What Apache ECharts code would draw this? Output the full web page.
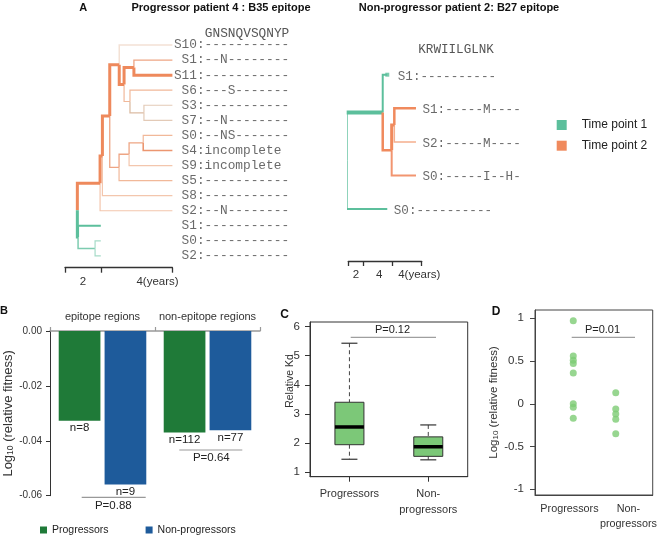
<!DOCTYPE html>
<html><head><meta charset="utf-8">
<script src="https://cdn.jsdelivr.net/npm/echarts@6/dist/echarts.min.js"></script>
<style>html,body{margin:0;padding:0;background:#fff}#chart{width:660px;height:535px}</style>
</head><body><div id="chart"></div>
<script>
// ---------------- Panel A data ----------------
const leftTitle = 'Progressor patient 4 : B35 epitope';
const rightTitle = 'Non-progressor patient 2: B27 epitope';
const leftEpitope = 'GNSNQVSQNYP';
const rightEpitope = 'KRWIILGLNK';
const leftLeafLabels = ['S10:-----------',' S1:--N--------','S11:-----------',' S6:---S-------',' S3:-----------',' S7:--N--------',' S0:--NS-------',' S4:incomplete',' S9:incomplete',' S5:-----------',' S8:-----------',' S2:--N--------',' S1:-----------',' S0:-----------',' S2:-----------'];
// [node, parent, time (years), leaf row, time point]
const leftTree = [
  ['root', null, 0.69, null, 2],
  ['P1', 'root', 1.96, null, 2],
  ['G1', 'root', 0.73, null, 1],
  ['G2', 'G1', 1.68, null, 1],
  ['g_S1', 'G1', 2.0, 12, 1],
  ['g_S0', 'G2', 2.0, 13, 1],
  ['g_S2', 'G2', 2.0, 14, 1],
  ['P2', 'P1', 2.09, null, 2],
  ['o_S2', 'P1', 6.0, 11, 2],
  ['P3', 'P2', 2.50, null, 2],
  ['o_S8', 'P2', 6.0, 10, 2],
  ['R5', 'P3', 3.03, null, 2],
  ['Q3', 'P3', 3.02, null, 2],
  ['o_S10', 'R5', 6.0, 0, 2],
  ['R2', 'R5', 3.30, null, 2],
  ['R1', 'R2', 3.85, null, 2],
  ['R3', 'R2', 3.63, null, 2],
  ['o_S1', 'R1', 6.0, 1, 2],
  ['o_S11', 'R1', 6.0, 2, 2],
  ['o_S6', 'R3', 6.0, 3, 2],
  ['R4', 'R3', 4.41, null, 2],
  ['o_S3', 'R4', 6.0, 4, 2],
  ['o_S7', 'R4', 6.0, 5, 2],
  ['Q2', 'Q3', 3.58, null, 2],
  ['o_S5', 'Q3', 6.0, 9, 2],
  ['Q1', 'Q2', 4.37, null, 2],
  ['o_S9', 'Q2', 6.0, 8, 2],
  ['o_S0', 'Q1', 6.0, 6, 2],
  ['o_S4', 'Q1', 6.0, 7, 2]
];
const rightLeafLabels = ['S1:----------','S1:-----M----','S2:-----M----','S0:-----I--H-','S0:----------'];
const rightTree = [
  ['root', null, -0.22, null, 1],
  ['N1', 'root', 4.69, null, 1],
  ['g_S0', 'root', 5.31, 4, 1],
  ['g_S1', 'N1', 5.31, 0, 1],
  ['N2', 'N1', 5.91, null, 2],
  ['N3', 'N2', 6.27, null, 2],
  ['o_S1', 'N3', 9.22, 1, 2],
  ['o_S2', 'N3', 9.22, 2, 2],
  ['o_S0', 'N2', 9.22, 3, 2]
];
const timePoints = ['Time point 1', 'Time point 2'];
const leftScaleTicks = [0, 2, 6];
const leftScaleLabelAt = [1, 5.17];
const leftScaleLabels = ['2', '4(years)'];
const rightScaleTicks = [0, 2.04, 6, 10];
const rightScaleLabelAt = [1.05, 4.22, 9.67];
const rightScaleLabels = ['2', '4', '4(years)'];

// ---------------- Panel B data ----------------
const regions = ['epitope regions', 'non-epitope regions'];
const groups = ['Progressors', 'Non-progressors'];
const progressorsFitness = [-0.0327, -0.0370];
const nonProgressorsFitness = [-0.0559, -0.0362];
const progressorsN = ['n=8', 'n=112'];
const nonProgressorsN = ['n=9', 'n=77'];
const bPValues = ['P=0.88', 'P=0.64'];

// ---------------- Panel C data ----------------
const cMin = [1.44, 1.42];
const cQ1 = [1.94, 1.54];
const cMedian = [2.55, 1.87];
const cQ3 = [3.40, 2.21];
const cMax = [5.43, 2.62];
const cYTicks = [1, 2, 3, 4, 5, 6];
const cPValue = 'P=0.12';

// ---------------- Panel D data ----------------
const dProgressors = [0.97, 0.56, 0.51, 0.47, 0.36, 0.00, -0.04, -0.17];
const dNonProgressors = [0.13, -0.06, -0.12, -0.18, -0.35];
const dYTicks = [-1, -0.5, 0, 0.5, 1];
const dXLabelAt = [0.91, 2.3];
const dPValue = 'P=0.01';

// ---------------- styles ----------------
const SANS = 'Liberation Sans';
const MONO = 'Liberation Mono';
const GREEN_TP = '#5cbf9c', ORANGE_TP = '#f08a5d';
const PRESET = {
  thickO:{color:'#ee895c', width:3}, thickG:{color:'#5cbf9c', width:3},
  midG:{color:'#5cbf9c', width:2}, thinG:{color:'#7dccb0', width:1.5}, lightG:{color:'#a6dbc8', width:1.2},
  peach:{color:'#f3c6ad', width:1.2}, midO:{color:'#eea584', width:1.3}, midO2:{color:'#ec9670', width:1.6},
  lightO:{color:'#f1b899', width:1.2}, pale:{color:'#f3e1d5', width:1.5}, tan:{color:'#dcbca3', width:1.3},
  tanL:{color:'#e3cab7', width:1.2},
  gR:{color:'#5cbf9c', width:2}, gRthick:{color:'#5cbf9c', width:4, vWidth:2}, oR:{color:'#f08a5d', width:2.5},
  oR3:{color:'#f08a5d', width:3}, oRl:{color:'#f5ae8d', width:1.5}, oR2:{color:'#f29570', width:2}
};
const leftBranchStyle = {
  P1:'thickO', P2:'thickO', P3:'thickO', R5:'thickO', R2:'thickO', R1:'thickO', o_S11:'thickO',
  G1:'thickG', g_S1:'midG', G2:'thinG', g_S0:'lightG', g_S2:'lightG',
  o_S2:'peach', o_S8:'peach', Q3:'midO', o_S10:'pale', o_S1:'midO', R3:'lightO', o_S6:'lightO',
  R4:'tan', o_S3:'tanL', o_S7:'tanL', Q2:'midO', o_S5:'lightO', Q1:'midO', o_S9:'peach', o_S0:'lightO', o_S4:'midO2'
};
const rightBranchStyle = {N1:'gRthick', g_S0:'gR', g_S1:'gR', N2:'oR', N3:'oR3', o_S1:'oR', o_S2:'oRl', o_S0:'oR2'};

// ---------------- tree layout ----------------
function layoutTree(rows) {
  const byId = {};
  rows.forEach(r => byId[r[0]] = {id:r[0], parent:r[1], t:r[2], row:r[3], tp:r[4], children:[]});
  Object.values(byId).forEach(n => { if (n.parent) byId[n.parent].children.push(n); });
  function yOf(n) {
    if (n.row !== null) { n.y = n.row; return n.y; }
    const ys = n.children.map(yOf);
    n.y = (Math.min(...ys) + Math.max(...ys)) / 2;
    return n.y;
  }
  Object.values(byId).filter(n => !n.parent).forEach(yOf);
  return byId;
}
function lineSeries(name, axisIdx, data, color, width, z) {
  return {
    type:'line', name, xAxisIndex:axisIdx, yAxisIndex:axisIdx, data,
    showSymbol:false, symbol:'none', silent:true, clip:false, animation:false, z,
    lineStyle:{color, width, cap:'butt', join:'miter'}
  };
}
function branchSeries(rows, styleMap, axisIdx) {
  const nodes = layoutTree(rows);
  const out = [];
  Object.values(nodes).forEach(n => {
    if (!n.parent) return;
    const p = nodes[n.parent];
    const st = PRESET[styleMap[n.id]];
    const z = st.width >= 2.5 ? 4 : 3;
    const name = timePoints[n.tp - 1];
    if (st.vWidth) {
      out.push(lineSeries(name, axisIdx, [[p.t, p.y], [p.t, n.y]], st.color, st.vWidth, z));
      out.push(lineSeries(name, axisIdx, [[p.t, n.y], [n.t, n.y]], st.color, st.width, z));
    } else {
      out.push(lineSeries(name, axisIdx, [[p.t, p.y], [p.t, n.y], [n.t, n.y]], st.color, st.width, z));
    }
  });
  return {series: out, nodes};
}
const L = branchSeries(leftTree, leftBranchStyle, 0);
const R = branchSeries(rightTree, rightBranchStyle, 1);
const leftLabelColumn = Math.max(...leftTree.map(r => r[2]));
const rightLeaves = rightTree.filter(r => r[3] !== null).sort((a,b) => a[3]-b[3]);

const series = [...L.series, ...R.series];
series.push({
  type:'scatter', xAxisIndex:0, yAxisIndex:0, silent:true, animation:false, symbolSize:1,
  itemStyle:{color:'rgba(0,0,0,0)'},
  data: leftLeafLabels.map((s, i) => [leftLabelColumn, i]),
  label:{show:true, position:'right', distance:1, formatter:p => leftLeafLabels[p.dataIndex],
    fontFamily:MONO, fontSize:12.8, color:'#444'}
});
series.push({
  type:'scatter', xAxisIndex:1, yAxisIndex:1, silent:true, animation:false, symbolSize:1,
  itemStyle:{color:'rgba(0,0,0,0)'},
  data: rightLeaves.map(r => ({value:[r[2], r[3]], label:{distance: r[0] === 'g_S1' ? 10 : 6}})),
  label:{show:true, position:'right', formatter:p => rightLeafLabels[p.dataIndex],
    fontFamily:MONO, fontSize:12.6, color:'#444', offset:[0, 1.5]}
});
// small square at the green S1 tip of the right tree
series.push({
  type:'scatter', xAxisIndex:1, yAxisIndex:1, silent:true, animation:false,
  symbol:'rect', symbolSize:4, itemStyle:{color:GREEN_TP},
  data: rightLeaves.filter(r => r[0] === 'g_S1').map(r => [r[2], r[3]])
});

// Panel B bars
series.push({
  type:'bar', name:groups[0], xAxisIndex:2, yAxisIndex:2, data:progressorsFitness,
  barWidth:41.7, barGap:'10%', itemStyle:{color:'#1f7a38'}, animation:false,
  label:{show:true, position:'bottom', distance:1, formatter:p => progressorsN[p.dataIndex],
    fontFamily:SANS, fontSize:11.5, color:'#222'}
});
series.push({
  type:'bar', name:groups[1], xAxisIndex:2, yAxisIndex:2, data:nonProgressorsFitness,
  barWidth:41.7, itemStyle:{color:'#1e5b9b'}, animation:false,
  label:{show:true, position:'bottom', distance:1, formatter:p => nonProgressorsN[p.dataIndex],
    fontFamily:SANS, fontSize:11.5, color:'#222'}
});

// Panel C boxplot (custom)
series.push({
  type:'custom', name:'Relative Kd', xAxisIndex:3, yAxisIndex:3, animation:false, silent:true,
  data: groups.map((g, i) => [i, cMin[i], cQ1[i], cMedian[i], cQ3[i], cMax[i]]),
  renderItem: function (params, api) {
    const x = api.value(0);
    const pt = v => api.coord([x, api.value(v)]);
    const cx = pt(1)[0];
    const yMin = pt(1)[1], yQ1 = pt(2)[1], yMed = pt(3)[1], yQ3 = pt(4)[1], yMax = pt(5)[1];
    const bw = 29, cw = 16;
    const dash = {stroke:'#444', lineWidth:1, lineDash:[4, 3]};
    const solid = {stroke:'#333', lineWidth:1.2};
    return {type:'group', children:[
      {type:'line', shape:{x1:cx, y1:yMax, x2:cx, y2:yQ3}, style:dash},
      {type:'line', shape:{x1:cx, y1:yQ1, x2:cx, y2:yMin}, style:dash},
      {type:'line', shape:{x1:cx - cw/2, y1:yMax, x2:cx + cw/2, y2:yMax}, style:solid},
      {type:'line', shape:{x1:cx - cw/2, y1:yMin, x2:cx + cw/2, y2:yMin}, style:solid},
      {type:'rect', shape:{x:cx - bw/2, y:yQ3, width:bw, height:yQ1 - yQ3}, style:{fill:'#7cc878', stroke:'#333', lineWidth:1}},
      {type:'line', shape:{x1:cx - bw/2, y1:yMed, x2:cx + bw/2, y2:yMed}, style:{stroke:'#000', lineWidth:3.5}}
    ]};
  }
});

// Panel D scatter
series.push({
  type:'scatter', name:'fitness', xAxisIndex:4, yAxisIndex:4, animation:false, silent:true,
  symbolSize:7, itemStyle:{color:'#7dcc74'},
  data: [...dProgressors.map(v => [1, v]), ...dNonProgressors.map(v => [2, v])]
});

const axisTxt = {fontFamily:SANS, color:'#333'};
const ctr = {align:'center', verticalAlign:'middle', textAlign:'center', textVerticalAlign:'middle'};
const option = {
  backgroundColor:'#fff',
  animation:false,
  grid:[
    {left:65, top:45, width:107.4, height:222.7, containLabel:false},
    {left:348.3, top:74.7, width:73.4, height:186.3, containLabel:false},
    {left:50, top:331, width:210, height:164.7, containLabel:false},
    {left:310, top:322, width:157.7, height:154.7, containLabel:false, show:true, borderColor:'#333', borderWidth:1, backgroundColor:'transparent'},
    {left:535, top:310, width:120, height:185, containLabel:false, show:true, borderColor:'#444', borderWidth:1, backgroundColor:'transparent'}
  ],
  xAxis:[
    {type:'value', gridIndex:0, min:0, max:6, splitLine:{show:false},
      axisLine:{show:true, onZero:false, lineStyle:{color:'#333', width:1.3}},
      axisTick:{show:true, customValues:leftScaleTicks, length:5, lineStyle:{color:'#333', width:1.3}},
      axisLabel:{customValues:leftScaleLabelAt, margin:8, fontSize:11.5, ...axisTxt,
        showMinLabel:true, showMaxLabel:true, hideOverlap:false,
        formatter:v => leftScaleLabels[leftScaleLabelAt.indexOf(v)]}},
    {type:'value', gridIndex:1, min:0, max:10, splitLine:{show:false},
      axisLine:{show:true, onZero:false, lineStyle:{color:'#333', width:1.3}},
      axisTick:{show:true, customValues:rightScaleTicks, length:5, lineStyle:{color:'#333', width:1.3}},
      axisLabel:{customValues:rightScaleLabelAt, margin:8, fontSize:11.5, ...axisTxt,
        showMinLabel:true, showMaxLabel:true, hideOverlap:false,
        formatter:v => rightScaleLabels[rightScaleLabelAt.indexOf(v)]}},
    {type:'category', gridIndex:2, data:regions, position:'top',
      axisLine:{show:true, onZero:false, lineStyle:{color:'#999', width:1.5}},
      axisTick:{show:true, length:4, lineStyle:{color:'#999', width:1.2}},
      axisLabel:{interval:0, margin:9, fontSize:11, hideOverlap:false, ...axisTxt}},
    {type:'category', gridIndex:3, data:groups,
      axisLine:{show:true, onZero:false, lineStyle:{color:'#333'}},
      axisTick:{show:true, alignWithLabel:true, length:5, lineStyle:{color:'#333'}},
      axisLabel:{interval:0, margin:9, fontSize:11, lineHeight:16.5, ...axisTxt, formatter:v => v.replace('Non-', 'Non-\n')}},
    {type:'value', gridIndex:4, min:0.0993, max:2.87, splitLine:{show:false},
      axisLine:{show:true, onZero:false, lineStyle:{color:'#444'}},
      axisTick:{show:false},
      axisLabel:{customValues:dXLabelAt, margin:7, fontSize:10.8, lineHeight:15, ...axisTxt,
        showMinLabel:true, showMaxLabel:true, hideOverlap:false,
        formatter:v => (v < 1.5 ? groups[0] : groups[1]).replace('Non-', 'Non-\n')}}
  ],
  yAxis:[
    {type:'value', gridIndex:0, min:0, max:14.78, inverse:true, show:false},
    {type:'value', gridIndex:1, min:0, max:5.545, inverse:true, show:false},
    {type:'value', gridIndex:2, min:-0.06, max:0, interval:0.02, splitLine:{show:false},
      axisLine:{show:true, lineStyle:{color:'#333', width:1}},
      axisTick:{show:true, length:4, lineStyle:{color:'#333'}},
      axisLabel:{margin:8, fontSize:10, ...axisTxt, formatter:v => v.toFixed(2)},
      name:'{a|Log}{s|10}{a| (relative fitness)}', nameLocation:'middle', nameGap:33, nameRotate:90,
      nameTextStyle:{rich:{a:{fontFamily:SANS, fontSize:13, color:'#333'}, s:{fontFamily:SANS, fontSize:8.5, color:'#333', verticalAlign:'bottom', padding:[4,0,0,0]}}}},
    {type:'value', gridIndex:3, min:0.84, max:6.16, splitLine:{show:false},
      axisLine:{show:true, onZero:false, lineStyle:{color:'#333'}},
      axisTick:{show:true, customValues:cYTicks, length:5, lineStyle:{color:'#333'}},
      axisLabel:{customValues:cYTicks, margin:10, fontSize:11.5, showMinLabel:true, showMaxLabel:true, ...axisTxt}},
    {type:'value', gridIndex:4, min:-1.067, max:1.097, splitLine:{show:false},
      axisLine:{show:true, onZero:false, lineStyle:{color:'#444'}},
      axisTick:{show:true, customValues:dYTicks, length:5, lineStyle:{color:'#444'}},
      axisLabel:{customValues:dYTicks, margin:11, fontSize:11.5, showMinLabel:true, showMaxLabel:true, ...axisTxt, formatter:v => String(v)},
      name:'{a|Log}{s|10}{a| (relative fitness)}', nameLocation:'middle', nameGap:33, nameRotate:90,
      nameTextStyle:{rich:{a:{fontFamily:SANS, fontSize:11.5, color:'#333'}, s:{fontFamily:SANS, fontSize:8, color:'#333', verticalAlign:'bottom', padding:[4,0,0,0]}}}}
  ],
  legend:[
    {orient:'vertical', left:551.7, top:114, itemWidth:10, itemHeight:10, itemGap:8.7, icon:'rect',
      selectedMode:false,
      data:[{name:timePoints[0], itemStyle:{color:GREEN_TP}}, {name:timePoints[1], itemStyle:{color:ORANGE_TP}}],
      textStyle:{fontFamily:SANS, fontSize:12, color:'#222', padding:[0,0,0,10]}},
    {orient:'horizontal', left:35, top:519.5, itemWidth:7, itemHeight:7, itemGap:37, icon:'rect',
      selectedMode:false,
      data:[{name:groups[0], itemStyle:{color:'#1f7a38'}}, {name:groups[1], itemStyle:{color:'#1e5b9b'}}],
      textStyle:{fontFamily:SANS, fontSize:10.5, color:'#222'}}
  ],
  graphic:[
    {type:'text', x:83.3, y:7.5, style:{text:'A', font:'bold 11px "Liberation Sans"', fill:'#111', ...ctr}},
    {type:'text', x:221, y:7.7, style:{text:leftTitle, font:'bold 11px "Liberation Sans"', fill:'#111', ...ctr}},
    {type:'text', x:459, y:7.7, style:{text:rightTitle, font:'bold 11px "Liberation Sans"', fill:'#111', ...ctr}},
    {type:'text', x:204.8, y:33.3, style:{text:leftEpitope, font:'12.8px "Liberation Mono"', fill:'#555', align:'left', verticalAlign:'middle', textAlign:'left', textVerticalAlign:'middle'}},
    {type:'text', x:418.3, y:50, style:{text:rightEpitope, font:'12.6px "Liberation Mono"', fill:'#555', align:'left', verticalAlign:'middle', textAlign:'left', textVerticalAlign:'middle'}},
    {type:'text', x:0, y:310.5, style:{text:'B', font:'bold 11px "Liberation Sans"', fill:'#111', align:'left', verticalAlign:'middle', textAlign:'left', textVerticalAlign:'middle'}},
    {type:'text', x:284.5, y:315, style:{text:'C', font:'bold 12px "Liberation Sans"', fill:'#111', ...ctr}},
    {type:'text', x:496, y:312, style:{text:'D', font:'bold 12px "Liberation Sans"', fill:'#111', ...ctr}},
    {type:'text', x:290, y:381, rotation:Math.PI/2, style:{text:'Relative Kd', font:'10.5px "Liberation Sans"', fill:'#333', ...ctr}},
    // P-value annotations
    {type:'line', shape:{x1:81.7, y1:497.3, x2:145.7, y2:497.3}, style:{stroke:'#999', lineWidth:1.2}},
    {type:'text', x:113.3, y:506, style:{text:bPValues[0], font:'11.5px "Liberation Sans"', fill:'#222', ...ctr}},
    {type:'line', shape:{x1:179.3, y1:450, x2:242.3, y2:450}, style:{stroke:'#999', lineWidth:1.2}},
    {type:'text', x:211.3, y:458.3, style:{text:bPValues[1], font:'11.5px "Liberation Sans"', fill:'#222', ...ctr}},
    {type:'line', shape:{x1:350.7, y1:337.3, x2:436, y2:337.3}, style:{stroke:'#888', lineWidth:1}},
    {type:'text', x:392.5, y:330.2, style:{text:cPValue, font:'11px "Liberation Sans"', fill:'#222', ...ctr}},
    {type:'line', shape:{x1:571.7, y1:337.3, x2:635, y2:337.3}, style:{stroke:'#888', lineWidth:1}},
    {type:'text', x:602.5, y:330.2, style:{text:dPValue, font:'11px "Liberation Sans"', fill:'#222', ...ctr}}
  ],
  series
};
const chart = echarts.init(document.getElementById('chart'), null, {renderer:'canvas'});
chart.setOption(option);
</script></body></html>
